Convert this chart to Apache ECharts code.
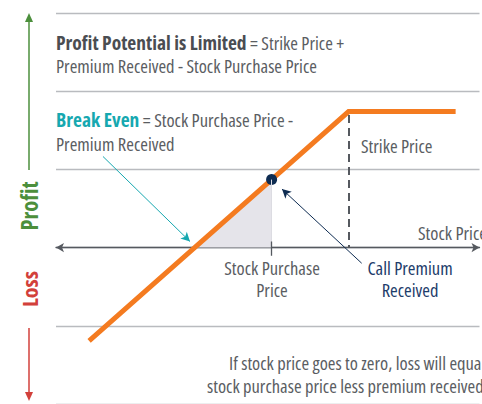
<!DOCTYPE html>
<html>
<head>
<meta charset="utf-8">
<script src="https://cdn.jsdelivr.net/npm/echarts@6/dist/echarts.min.js"></script>
<style>
  html, body { margin: 0; padding: 0; background: #fff; }
  #chart { width: 482px; height: 404px; }
</style>
</head>
<body>
<div id="chart"></div>
<script>
// covered call payoff, in $ (stock price vs profit)
const stockPrices = [6.3, 20, 30, 40, 53.9];
const profits = [-13.7, 0, 10, 20, 20];
const breakEven = 20;
const purchasePrice = 30;
const callPremium = 10;
const strikePrice = 40;
const maxProfit = 20;

const FAMILY = '"Open Sans", sans-serif';
const REG = 'condensed 18.5px ' + FAMILY;
const BOLD = 'condensed bold 19.5px ' + FAMILY;
const TEXT = '#5a5d62';
const ORANGE = '#f47b20';
const TEAL = '#16a8b0';
const NAVY = '#0e2c52';
const GREEN = '#4c8f3c';
const RED = '#d2403b';

const chart = echarts.init(document.getElementById('chart'), null, { renderer: 'svg' });

const payoff = stockPrices.map((s, i) => [s, profits[i]]);
const shaded = [[breakEven, 0], [purchasePrice, callPremium]];

function label(x, y, text, opts) {
  return {
    type: 'text', x, y, z: 10,
    style: Object.assign({
      text, font: REG, fill: TEXT, lineHeight: 20,
      textVerticalAlign: 'middle'
    }, opts || {})
  };
}

const option = {
  animation: false,
  grid: { left: 56, right: 2.5, top: 13, height: 393.5 },
  xAxis: {
    type: 'value', min: 2, max: 57,
    axisLine: {
      onZero: true,
      symbol: ['arrow', 'arrow'], symbolSize: [7, 8],
      lineStyle: { color: '#55595f', width: 1.3 }
    },
    axisTick: { show: false }, axisLabel: { show: false }, splitLine: { show: false }
  },
  yAxis: {
    type: 'value', min: -23, max: 34.5, interval: 11.5,
    axisLine: { show: false }, axisTick: { show: false }, axisLabel: { show: false },
    splitLine: { lineStyle: { color: '#b9bbbf', width: 1.4 } }
  },
  series: [
    {
      type: 'line', data: shaded, symbol: 'none', z: 1,
      lineStyle: { width: 0 },
      areaStyle: { color: '#e5e4ea', opacity: 1, origin: 0 },
      markLine: {
        silent: true, symbol: 'none', label: { show: false },
        data: [
          [{ coord: [purchasePrice, 0], lineStyle: { color: '#dcdce2', width: 1, type: 'solid' } },
           { coord: [purchasePrice, callPremium] }],
          [{ coord: [purchasePrice, 0.9], lineStyle: { color: '#55595f', width: 1.3, type: 'solid' } },
           { coord: [purchasePrice, -1.2] }],
          [{ coord: [strikePrice, maxProfit - 0.5], lineStyle: { color: '#55595f', width: 2, type: [8, 5] } },
           { coord: [strikePrice, 0] }]
        ]
      }
    },
    {
      type: 'line', data: payoff, symbol: 'none', z: 3,
      lineStyle: { color: ORANGE, width: 5, cap: 'butt', join: 'miter' },
      markLine: {
        silent: true, label: { show: false },
        symbol: ['none', 'arrow'], symbolSize: [7, 9],
        data: [
          [{ coord: [8.1, 13.4], lineStyle: { color: TEAL, width: 1, type: 'solid' } },
           { coord: [breakEven - 0.6, 0.9] }],
          [{ coord: [41.7, -2.3], lineStyle: { color: NAVY, width: 1, type: 'solid' } },
           { coord: [purchasePrice + 1.35, callPremium - 1.4] }]
        ]
      }
    },
    {
      type: 'scatter', data: [[purchasePrice, callPremium]], z: 4,
      symbolSize: 11, itemStyle: { color: NAVY, opacity: 1 }
    }
  ],
  graphic: [
    label(56, 42, '{b|Profit Potential is Limited} = Strike Price +', {
      rich: { b: { font: BOLD, fill: '#4a4d52', lineHeight: 20 } }
    }),
    label(56, 65, 'Premium Received - Stock Purchase Price'),
    label(56, 119, '{b|Break Even} = Stock Purchase Price -', {
      rich: { b: { font: BOLD, fill: TEAL, lineHeight: 20 } }
    }),
    label(56, 143, 'Premium Received'),
    label(361, 145, 'Strike Price'),
    label(418, 232, 'Stock Price'),
    label(272, 267, 'Stock Purchase', { textAlign: 'center' }),
    label(272, 289, 'Price', { textAlign: 'center' }),
    label(410, 267, 'Call Premium', { textAlign: 'center', fill: '#1d3c6a' }),
    label(410, 289, 'Received', { textAlign: 'center', fill: '#1d3c6a' }),
    label(229, 362, 'If stock price goes to zero, loss will equal'),
    label(207, 385, 'stock purchase price less premium received.'),
    // profit / loss side arrows
    { type: 'line', shape: { x1: 29, y1: 20, x2: 29, y2: 170 }, style: { stroke: GREEN, lineWidth: 1.5 } },
    { type: 'polygon', shape: { points: [[29, 13], [25, 22], [33, 22]] }, style: { fill: GREEN } },
    { type: 'line', shape: { x1: 29, y1: 328, x2: 29, y2: 394 }, style: { stroke: RED, lineWidth: 1.5 } },
    { type: 'polygon', shape: { points: [[29, 401], [25, 392], [33, 392]] }, style: { fill: RED } },
    {
      type: 'text', x: 29, y: 206, rotation: Math.PI / 2,
      style: { text: 'Profit', font: 'condensed bold 22.5px ' + FAMILY, fill: GREEN, textAlign: 'center', textVerticalAlign: 'middle' }
    },
    {
      type: 'text', x: 29, y: 289, rotation: Math.PI / 2,
      style: { text: 'Loss', font: 'condensed bold 22px ' + FAMILY, fill: RED, textAlign: 'center', textVerticalAlign: 'middle' }
    }
  ]
};

chart.setOption(option);
</script>
</body>
</html>
